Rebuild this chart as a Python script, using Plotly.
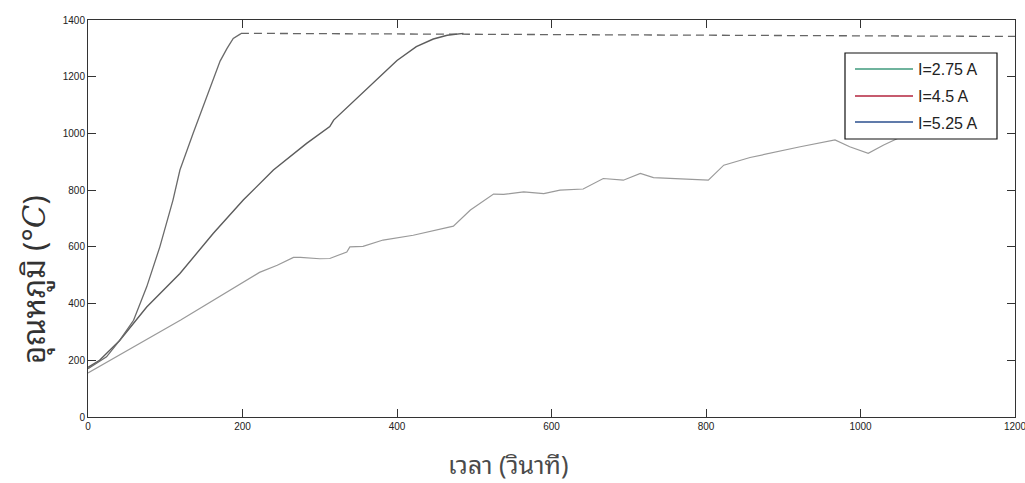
import plotly.graph_objects as go

# Heating curves: time (s) vs temperature (°C)
t_525 = [0, 3, 24, 41, 59, 76, 93, 110, 119, 136, 154, 171, 180, 188, 198]
T_525 = [170, 175, 212, 270, 341, 459, 600, 765, 871, 1000, 1129, 1255, 1300, 1335, 1352]

t_45 = [0, 15, 41, 76, 119, 162, 201, 240, 283, 313, 318, 369, 400, 425, 447, 465, 486]
T_45 = [175, 200, 270, 388, 506, 647, 765, 871, 965, 1024, 1047, 1177, 1257, 1306, 1333, 1346, 1353]

t_275 = [0, 120, 222, 245, 266, 275, 300, 313, 335, 339, 356, 382, 421, 456, 473, 495,
         525, 538, 564, 590, 611, 641, 667, 693, 715, 732, 771, 803, 823, 857, 922,
         967, 986, 1010, 1030, 1050]
T_275 = [155, 342, 510, 535, 563, 563, 558, 559, 582, 600, 602, 624, 641, 661, 673, 730,
         786, 785, 794, 788, 800, 804, 841, 835, 859, 844, 838, 835, 888, 915, 953,
         977, 953, 930, 959, 985]

# Saturated reading after the limit is reached
t_cap = [198, 1200]
T_cap = [1353, 1342]

legend_labels = ["I=2.75 A", "I=4.5 A", "I=5.25 A"]
legend_colors = ["#3f9a7c", "#b3243e", "#2b4f8e"]

x_ticks = [0, 200, 400, 600, 800, 1000, 1200]
y_ticks = [0, 200, 400, 600, 800, 1000, 1200, 1400]

fig = go.Figure()

fig.add_trace(go.Scatter(x=t_cap, y=T_cap, mode="lines", showlegend=False,
                         line=dict(color="#666666", width=1.3, dash="8px,5px")))
fig.add_trace(go.Scatter(x=t_275, y=T_275, mode="lines", showlegend=False,
                         line=dict(color="#9a9a9a", width=1.2)))
fig.add_trace(go.Scatter(x=t_45, y=T_45, mode="lines", showlegend=False,
                         line=dict(color="#5c5c5c", width=1.4)))
fig.add_trace(go.Scatter(x=t_525, y=T_525, mode="lines", showlegend=False,
                         line=dict(color="#6a6a6a", width=1.3)))

axis_common = dict(
    showgrid=False, zeroline=False, showline=True, mirror="ticks",
    ticks="inside", ticklen=8, tickwidth=1, tickcolor="#333",
    linecolor="#333", linewidth=1, ticklabeloverflow="allow", automargin=False,
    tickfont=dict(family="Liberation Sans, Arial, sans-serif", size=10, color="#222"),
)

# Legend box drawn in paper coordinates (plot area: 927 x 397 px)
PW, PH, L, T = 927.0, 397.0, 88.0, 20.0


def px_x(p):
    return (p - L) / PW


def px_y(p):
    return (T + PH - p) / PH


shapes = [dict(type="rect", xref="paper", yref="paper",
               x0=px_x(845), x1=px_x(997), y0=px_y(139), y1=px_y(53),
               fillcolor="white", line=dict(color="#111", width=1.2), layer="above")]
annotations = []
row_y = [69, 96, 122]
for lab, col, ry in zip(legend_labels, legend_colors, row_y):
    shapes.append(dict(type="line", xref="paper", yref="paper",
                       x0=px_x(855), x1=px_x(913), y0=px_y(ry), y1=px_y(ry),
                       line=dict(color=col, width=1.5), layer="above"))
    annotations.append(dict(text=lab, xref="paper", yref="paper",
                            x=px_x(916), y=px_y(ry + 1), xanchor="left", yanchor="middle",
                            showarrow=False,
                            font=dict(family="Liberation Sans, Arial, sans-serif",
                                      size=16, color="#222")))

thai_font = "Noto Sans Thai Looped, Noto Serif Thai, Noto Sans Thai, Noto Sans, sans-serif"
annotations += [
    dict(text="เวลา (วินาที)", xref="paper", yref="paper",
         x=px_x(508), y=px_y(463), showarrow=False, xanchor="center", yanchor="middle",
         font=dict(family=thai_font, size=25, color="#4a4a4a")),
    dict(text="อุณหภูมิ (°<span style=\"font-family:'DejaVu Serif';font-style:italic\">C</span>)",
         xref="paper", yref="paper",
         x=px_x(31), y=px_y(280), showarrow=False, xanchor="center", yanchor="middle",
         textangle=-90,
         font=dict(family=thai_font, size=31, color="#333")),
]

fig.update_layout(
    width=1025, height=483,
    margin=dict(l=88, r=10, t=20, b=66),
    paper_bgcolor="white", plot_bgcolor="white",
    showlegend=False,
    xaxis=dict(range=[0, 1200], tickvals=x_ticks, **axis_common),
    yaxis=dict(range=[0, 1400], tickvals=y_ticks, **axis_common),
    shapes=shapes,
    annotations=annotations,
)

fig.write_html("out.html")
